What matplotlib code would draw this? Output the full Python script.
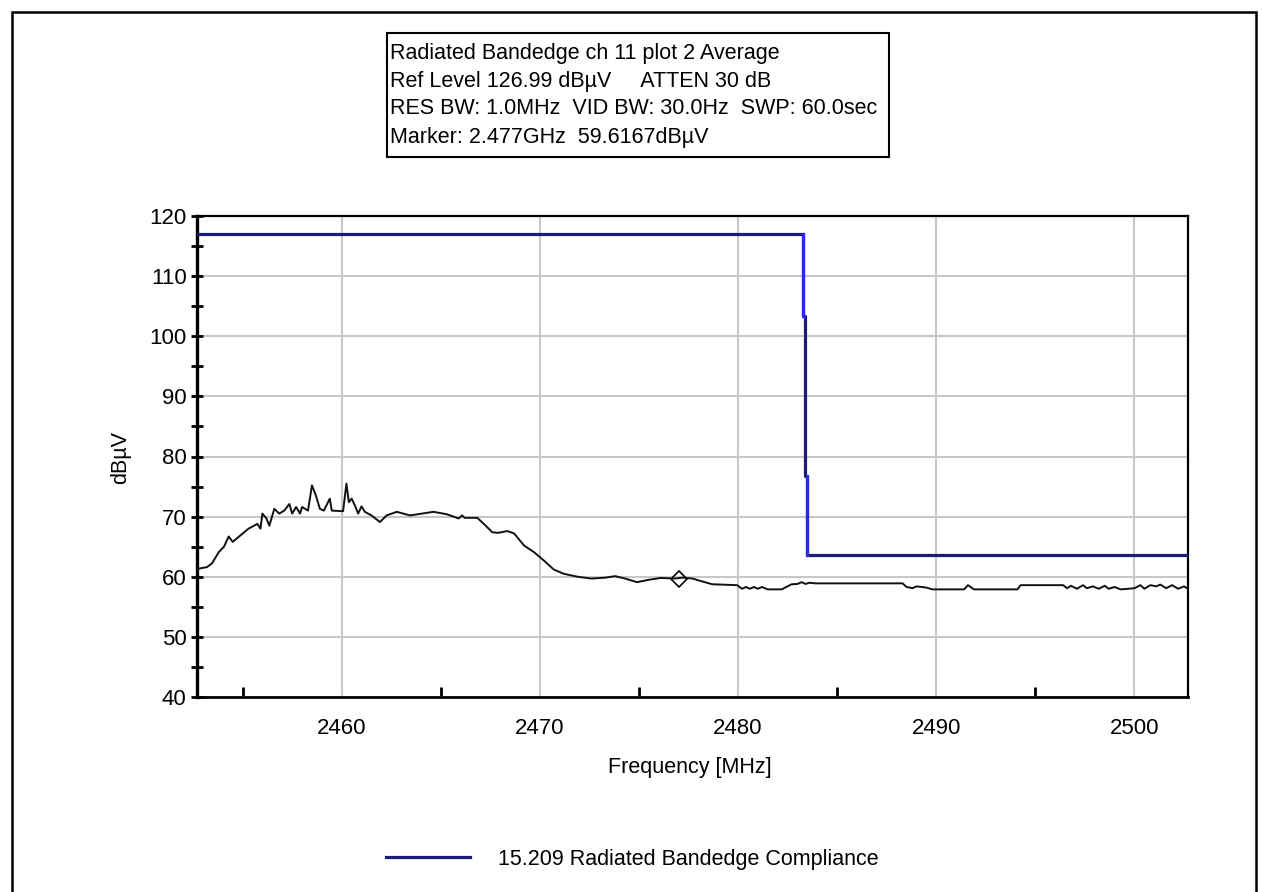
import matplotlib
matplotlib.use("Agg")
import matplotlib.pyplot as plt
from matplotlib.patches import Rectangle
from matplotlib.ticker import MultipleLocator

plt.rcParams["font.family"] = ["Liberation Sans", "DejaVu Sans"]

# Analyzer header lines
header_lines = [
    "Radiated Bandedge ch 11 plot 2 Average",
    "Ref Level 126.99 dBµV     ATTEN 30 dB",
    "RES BW: 1.0MHz  VID BW: 30.0Hz  SWP: 60.0sec",
    "Marker: 2.477GHz  59.6167dBµV",
]

# Measured average trace (MHz, dBµV)
trace_freq = [
    2452.7, 2453.2, 2453.45, 2453.8, 2454.06, 2454.3, 2454.5, 2454.9, 2455.3, 2455.75,
    2455.9, 2456.0, 2456.2, 2456.35, 2456.6, 2456.85, 2457.1, 2457.36, 2457.5, 2457.7,
    2457.9, 2458.0, 2458.3, 2458.5, 2458.7, 2458.9, 2459.1, 2459.4, 2459.5, 2460.07,
    2460.24, 2460.36, 2460.5, 2460.66, 2460.83, 2461.0, 2461.17, 2461.5, 2461.93, 2462.27,
    2462.78, 2463.45, 2464.63, 2465.3, 2465.9, 2466.08, 2466.2, 2466.84, 2467.17, 2467.6,
    2467.9, 2468.36, 2468.7, 2469.2, 2469.7, 2470.2, 2470.7, 2471.2, 2471.9, 2472.6,
    2473.3, 2473.8, 2474.3, 2474.9, 2475.5, 2476.1, 2476.8, 2477.2, 2477.7, 2478.0,
    2478.7, 2479.95, 2480.2, 2480.4, 2480.6, 2480.8, 2481.0, 2481.2, 2481.5, 2482.2,
    2482.7, 2483.0, 2483.2, 2483.4, 2483.6, 2483.9, 2488.3, 2488.5, 2488.8, 2489.0,
    2489.5, 2489.8, 2491.4, 2491.6, 2491.9, 2494.1, 2494.25, 2496.4, 2496.6, 2496.8,
    2497.1, 2497.4, 2497.6, 2497.9, 2498.2, 2498.5, 2498.7, 2499.0, 2499.3, 2499.7,
    2500.0, 2500.3, 2500.5, 2500.8, 2501.1, 2501.3, 2501.6, 2501.9, 2502.2, 2502.5,
    2502.7,
]
trace_level = [
    61.3, 61.6, 62.2, 64.1, 65.0, 66.7, 65.8, 66.9, 68.0, 68.8,
    68.0, 70.5, 69.7, 68.5, 71.3, 70.5, 71.0, 72.1, 70.5, 71.6,
    70.5, 71.6, 71.0, 75.2, 73.5, 71.3, 71.0, 73.0, 71.0, 70.9,
    75.5, 72.4, 73.0, 71.9, 70.5, 71.7, 70.8, 70.2, 69.1, 70.2,
    70.8, 70.2, 70.8, 70.4, 69.7, 70.2, 69.8, 69.8, 68.8, 67.4,
    67.3, 67.6, 67.2, 65.2, 64.1, 62.7, 61.2, 60.5, 60.0, 59.7,
    59.85, 60.1, 59.7, 59.1, 59.5, 59.8, 59.7, 59.85, 59.7, 59.4,
    58.75, 58.6, 58.0, 58.3, 58.0, 58.3, 58.0, 58.3, 57.9, 57.9,
    58.75, 58.8, 59.1, 58.8, 59.0, 58.9, 58.9, 58.3, 58.1, 58.4,
    58.2, 57.9, 57.9, 58.6, 57.9, 57.9, 58.6, 58.6, 58.1, 58.5,
    58.0, 58.6, 58.1, 58.4, 58.0, 58.5, 58.0, 58.3, 57.9, 58.0,
    58.1, 58.6, 58.0, 58.6, 58.4, 58.7, 58.1, 58.6, 58.0, 58.4,
    58.0,
]

# 15.209 limit line with the band edge step
limit_freq = [2452.7, 2483.3, 2483.3, 2483.4, 2483.4, 2483.5, 2483.5, 2502.7]
limit_level = [117.0, 117.0, 103.4, 103.4, 76.8, 76.8, 63.7, 63.7]

marker_freq = 2477.0
marker_level = 59.6167

W, H = 1262, 892
fig = plt.figure(figsize=(W / 100, H / 100), dpi=100)


def fx(px):
    return px / W


def fy(py):
    return 1 - py / H


ax = fig.add_axes([fx(197), fy(697), (1188 - 197) / W, (697 - 216) / H])

ax.plot(trace_freq, trace_level, color="#111111", lw=1.4, zorder=3)
limit, = ax.plot(limit_freq, limit_level, color="#1c1c78", lw=2.3, zorder=4,
                 label="15.209 Radiated Bandedge Compliance")
# brighter segments on the step edge
ax.plot(limit_freq[1:3], limit_level[1:3], color="#2a2ae6", lw=2.3, zorder=5)
ax.plot(limit_freq[5:7], limit_level[5:7], color="#2a2ae6", lw=2.3, zorder=5)
ax.plot([marker_freq], [marker_level], marker="D", ms=8, mfc="none", mec="black",
        mew=1.2, zorder=6)

ax.set_xlim(2452.7, 2502.7)
ax.set_ylim(40, 120)
ax.xaxis.set_major_locator(MultipleLocator(10))
ax.xaxis.set_minor_locator(MultipleLocator(5))
ax.yaxis.set_major_locator(MultipleLocator(10))
ax.yaxis.set_minor_locator(MultipleLocator(5))
ax.grid(True, which="major", color="#c8c8c8", lw=1.5)
ax.set_axisbelow(True)

for s in ax.spines.values():
    s.set_linewidth(1.6)
ax.spines["left"].set_linewidth(2.4)
ax.spines["bottom"].set_linewidth(2.0)

ax.tick_params(axis="y", which="both", direction="inout", length=9, width=2,
               labelsize=16, pad=3)
ax.tick_params(axis="x", which="major", direction="in", length=0, labelsize=16, pad=15)
ax.tick_params(axis="x", which="minor", direction="in", length=7, width=2)

fig.text(fx(121), fy(457), "dBµV", rotation=90, ha="center", va="center", fontsize=15.5)
fig.text(fx(690), fy(767), "Frequency [MHz]", ha="center", va="center", fontsize=15.5)

# header box
fig.add_artist(Rectangle((fx(387), fy(157)), (889 - 387) / W, (157 - 33) / H,
                         transform=fig.transFigure, fill=False, ec="black", lw=1.5))
for i, line in enumerate(header_lines):
    fig.text(fx(390), fy(53 + i * 28), line, ha="left", va="center", fontsize=15.5)

fig.legend(handles=[limit], loc="center", bbox_to_anchor=(fx(632), fy(859)),
           frameon=False, fontsize=15.5, handlelength=3.9, handletextpad=1.3,
           borderpad=0)

# outer frame
fig.add_artist(Rectangle((fx(12), fy(895)), (1256 - 12) / W, (895 - 12) / H,
                         transform=fig.transFigure, fill=False, ec="black", lw=1.8))

fig.savefig("out.png", dpi=100)
